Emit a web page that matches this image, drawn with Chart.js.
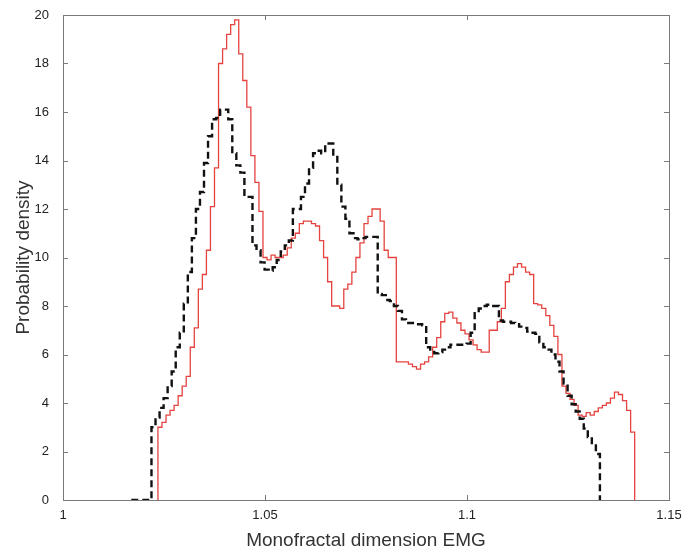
<!DOCTYPE html>
<html>
<head>
<meta charset="utf-8">
<script src="https://cdn.jsdelivr.net/npm/chart.js@4.4.1/dist/chart.umd.min.js"></script>
<style>
  html, body { margin: 0; padding: 0; background: #fff; }
  #wrap { width: 687px; height: 552px; }
</style>
</head>
<body>
<div id="wrap"><canvas id="chart"></canvas></div>
<script>
// Histogram data (bin width 0.001)
const binWidth = 0.001;

const redStart = 1.0235;
const redValues = [
  3.0, 3.2, 3.5, 3.7, 3.9, 4.3, 4.7, 5.1, 6.3, 7.1,
  8.7, 9.3, 10.3, 12.1, 13.7, 18.0, 18.6, 19.2, 19.6, 19.8,
  18.4, 17.3, 16.2, 14.2, 13.1, 11.9, 10.0, 9.9, 10.1, 10.0,
  10.0, 10.1, 10.4, 10.8, 11.0, 11.4, 11.5, 11.5, 11.4, 11.3,
  10.7, 10.0, 9.0, 8.0, 8.0, 7.9, 8.7, 8.9, 9.4, 10.0,
  10.6, 11.4, 11.7, 12.0, 12.0, 11.5, 10.3, 10.0, 10.0, 5.7,
  5.7, 5.7, 5.6, 5.5, 5.4, 5.6, 5.7, 5.9, 6.3, 6.7,
  7.35, 7.7, 7.75, 7.5, 7.3, 7.0, 6.85, 6.6, 6.4, 6.2,
  6.1, 6.1, 7.0, 7.0, 7.35, 7.9, 9.0, 9.3, 9.6, 9.75,
  9.6, 9.4, 9.3, 8.1, 8.05, 7.9, 7.6, 7.2, 6.75, 6.0,
  4.7, 4.4, 4.15, 3.9, 3.5, 3.45, 3.6, 3.5, 3.65, 3.8,
  3.9, 4.0, 4.2, 4.45, 4.35, 4.1, 3.7, 2.8
];

const blackStart = 1.0169;
const blackValues = [
  0, 0, 0, 0, 0,
  3.0, 3.4, 3.8, 4.2, 4.7, 5.3, 6.3, 6.9, 8.1, 9.4,
  10.8, 12.0, 12.7, 13.9, 15.0, 15.7, 15.75, 16.1, 16.1, 15.7,
  14.3, 13.8, 13.5, 12.5, 12.5, 10.5, 10.3, 9.8, 9.5, 9.45,
  9.6, 9.9, 10.25, 10.5, 10.7, 12.0, 12.0, 12.5, 13.05, 13.7,
  14.3, 14.4, 14.3, 14.7, 14.7, 14.15, 13.0, 12.1, 11.6, 11.0,
  10.8, 10.75, 10.8, 10.85, 10.85, 10.85, 8.5, 8.45, 8.25, 8.2,
  8.0, 7.8, 7.45, 7.3, 7.3, 7.3, 7.25, 7.2, 6.3, 6.2,
  6.05, 6.1, 6.2, 6.3, 6.4, 6.4, 6.4, 6.4, 6.45, 6.9,
  7.7, 7.9, 8.0, 8.05, 8.0, 8.0, 7.4, 7.35, 7.35, 7.3,
  7.25, 7.15, 7.1, 6.95, 6.9, 6.85, 6.5, 6.3, 6.2, 6.0,
  5.7, 5.3, 4.8, 4.3, 3.95, 3.65, 3.35, 2.95, 2.6, 2.25,
  1.9
];

const xTicks = [1, 1.05, 1.1, 1.15];
const yTicks = [0, 2, 4, 6, 8, 10, 12, 14, 16, 18, 20];

// turn bin values into step points (left edges, closed down to 0 at both ends)
function toSteps(start, values) {
  const pts = [{ x: start, y: 0 }];
  values.forEach((v, i) => pts.push({ x: start + i * binWidth, y: v }));
  const end = start + values.length * binWidth;
  pts.push({ x: end, y: values[values.length - 1] });
  pts.push({ x: end, y: 0 });
  return pts;
}

// plot box + inward ticks, matlab style
const boxPlugin = {
  id: 'box',
  afterDraw(chart) {
    const { ctx, chartArea: a, scales } = chart;
    ctx.save();
    ctx.strokeStyle = '#7a7a7a';
    ctx.lineWidth = 1;
    ctx.strokeRect(a.left + 0.5, a.top + 0.5, a.right - a.left, a.bottom - a.top);
    ctx.beginPath();
    const len = 5;
    xTicks.forEach(v => {
      const px = Math.round(scales.x.getPixelForValue(v)) + 0.5;
      ctx.moveTo(px, a.bottom); ctx.lineTo(px, a.bottom - len);
      ctx.moveTo(px, a.top); ctx.lineTo(px, a.top + len);
    });
    yTicks.forEach(v => {
      const py = Math.round(scales.y.getPixelForValue(v)) + 0.5;
      ctx.moveTo(a.left, py); ctx.lineTo(a.left + len, py);
      ctx.moveTo(a.right, py); ctx.lineTo(a.right - len, py);
    });
    ctx.stroke();
    ctx.restore();
  }
};

new Chart(document.getElementById('chart'), {
  type: 'line',
  data: {
    datasets: [
      {
        data: toSteps(blackStart, blackValues),
        borderColor: '#111111',
        borderWidth: 2.4,
        borderDash: [7, 4],
        stepped: true,
        pointRadius: 0,
        fill: false
      },
      {
        data: toSteps(redStart, redValues),
        borderColor: '#e5433f',
        borderWidth: 1.3,
        stepped: true,
        pointRadius: 0,
        fill: false
      }
    ]
  },
  options: {
    responsive: true,
    maintainAspectRatio: false,
    animation: false,
    layout: { padding: { top: 15, right: 18, left: 0, bottom: 0 } },
    plugins: {
      legend: { display: false },
      tooltip: { enabled: false }
    },
    scales: {
      x: {
        type: 'linear',
        min: 1,
        max: 1.15,
        afterBuildTicks: s => { s.ticks = xTicks.map(v => ({ value: v })); },
        afterFit: s => { s.height = 52; },
        grid: { display: false },
        border: { display: false },
        ticks: {
          padding: 0,
          color: '#222',
          font: { family: 'Liberation Sans, Arial, sans-serif', size: 13 },
          callback: v => String(v)
        },
        title: {
          display: true,
          text: 'Monofractal dimension EMG',
          color: '#333',
          padding: { top: 0, bottom: 0 },
          font: { family: 'Liberation Sans, Arial, sans-serif', size: 19 }
        }
      },
      y: {
        min: 0,
        max: 20,
        afterBuildTicks: s => { s.ticks = yTicks.map(v => ({ value: v })); },
        afterFit: s => { s.width = 63; },
        grid: { display: false },
        border: { display: false },
        ticks: {
          padding: 6,
          color: '#222',
          font: { family: 'Liberation Sans, Arial, sans-serif', size: 13 }
        },
        title: {
          display: true,
          text: 'Probability density',
          color: '#333',
          padding: { top: 12, bottom: 0 },
          font: { family: 'Liberation Sans, Arial, sans-serif', size: 19 }
        }
      }
    }
  },
  plugins: [boxPlugin]
});
</script>
</body>
</html>
